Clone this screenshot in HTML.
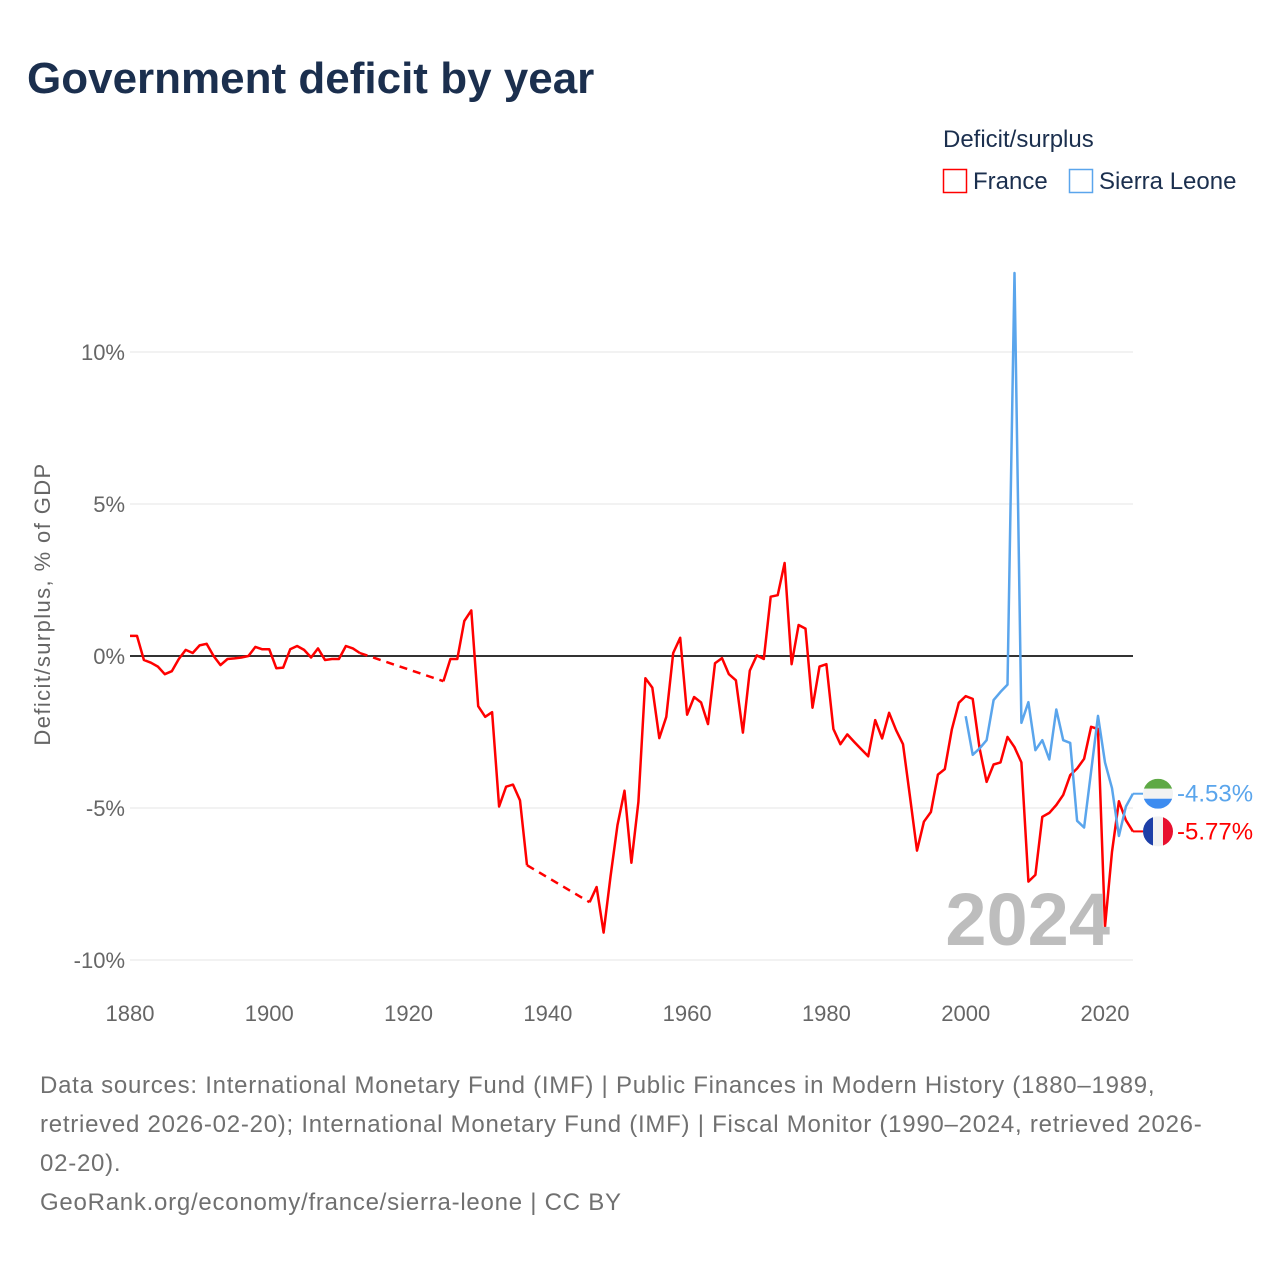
<!DOCTYPE html>
<html><head><meta charset="utf-8"><style>
body{margin:0;background:#fff;width:1280px;height:1280px;overflow:hidden;font-family:"Liberation Sans",sans-serif}
</style></head><body>
<svg width="1280" height="1280" font-family="Liberation Sans, sans-serif">
<text x="27" y="93" font-size="44" font-weight="bold" fill="#1b2f4e">Government deficit by year</text>
<text x="943" y="147" font-size="24" fill="#1b2f4e">Deficit/surplus</text>
<g><rect x="943.5" y="169.5" width="23" height="23" fill="none" stroke="#ff0000" stroke-width="1.5"/><text x="973" y="189" font-size="24" fill="#1b2f4e">France</text></g>
<g><rect x="1069.5" y="169.5" width="23" height="23" fill="none" stroke="#5aa5ec" stroke-width="1.5"/><text x="1099" y="189" font-size="24" fill="#1b2f4e">Sierra Leone</text></g>
<text transform="translate(50,604) rotate(-90)" text-anchor="middle" font-size="22" letter-spacing="1.4" fill="#666">Deficit/surplus, % of GDP</text>
<g id="grid"></g><g id="axes"></g><g id="series"></g>
<text x="1110" y="945" text-anchor="end" font-size="74" font-weight="bold" fill="#bdbdbd">2024</text>
<g id="ends"></g>
<g font-size="24" fill="#707070" letter-spacing="0.75">
<text x="40" y="1093">Data sources: International Monetary Fund (IMF) | Public Finances in Modern History (1880–1989,</text>
<text x="40" y="1132">retrieved 2026-02-20); International Monetary Fund (IMF) | Fiscal Monitor (1990–2024, retrieved 2026-</text>
<text x="40" y="1171">02-20).</text>
<text x="40" y="1210">GeoRank.org/economy/france/sierra-leone | CC BY</text>
</g>
</svg>
<script>
const xTicks=[1880,1900,1920,1940,1960,1980,2000,2020];
const yTicks=[-10,-5,0,5,10];
const franceYears1=[1880,1881,1882,1883,1884,1885,1886,1887,1888,1889,1890,1891,1892,1893,1894,1895,1896,1897,1898,1899,1900,1901,1902,1903,1904,1905,1906,1907,1908,1909,1910,1911,1912,1913];
const franceVals1=[0.66,0.66,-0.13,-0.22,-0.35,-0.6,-0.5,-0.1,0.2,0.1,0.35,0.4,0,-0.3,-0.1,-0.08,-0.05,0,0.3,0.22,0.22,-0.4,-0.38,0.22,0.33,0.2,-0.05,0.25,-0.13,-0.1,-0.1,0.33,0.25,0.1];
const franceYears2=[1925,1926,1927,1928,1929,1930,1931,1932,1933,1934,1935,1936,1937];
const franceVals2=[-0.83,-0.1,-0.1,1.15,1.5,-1.65,-2.0,-1.85,-4.95,-4.3,-4.23,-4.75,-6.88];
const franceYears3=[1946,1947,1948,1949,1950,1951,1952,1953,1954,1955,1956,1957,1958,1959,1960,1961,1962,1963,1964,1965,1966,1967,1968,1969,1970,1971,1972,1973,1974,1975,1976,1977,1978,1979,1980,1981,1982,1983,1984,1985,1986,1987,1988,1989,1990,1991,1992,1993,1994,1995,1996,1997,1998,1999,2000,2001,2002,2003,2004,2005,2006,2007,2008,2009,2010,2011,2012,2013,2014,2015,2016,2017,2018,2019,2020,2021,2022,2023,2024];
const franceVals3=[-8.1,-7.6,-9.1,-7.26,-5.56,-4.43,-6.8,-4.8,-0.73,-1.04,-2.7,-2.0,0.1,0.6,-1.93,-1.35,-1.53,-2.24,-0.24,-0.07,-0.6,-0.8,-2.52,-0.48,0.02,-0.1,1.95,2.0,3.06,-0.27,1.02,0.9,-1.7,-0.35,-0.27,-2.4,-2.9,-2.58,-2.83,-3.07,-3.3,-2.11,-2.71,-1.87,-2.44,-2.9,-4.63,-6.4,-5.45,-5.13,-3.9,-3.72,-2.42,-1.54,-1.32,-1.41,-3.04,-4.14,-3.57,-3.5,-2.66,-3.0,-3.5,-7.42,-7.2,-5.29,-5.16,-4.9,-4.57,-3.92,-3.7,-3.38,-2.33,-2.4,-8.9,-6.44,-4.78,-5.4,-5.77];
const sleYears=[2000,2001,2002,2003,2004,2005,2006,2007,2008,2009,2010,2011,2012,2013,2014,2015,2016,2017,2018,2019,2020,2021,2022,2023,2024];
const sleVals=[-1.98,-3.25,-3.04,-2.77,-1.45,-1.18,-0.94,12.6,-2.2,-1.52,-3.1,-2.77,-3.4,-1.76,-2.77,-2.86,-5.42,-5.64,-3.8,-1.97,-3.5,-4.35,-5.92,-4.95,-4.53];
const endLabels=["-4.53%","-5.77%"];

const NS="http://www.w3.org/2000/svg";
const X=y=>130+(y-1880)*(975/140);
const Y=v=>656-v*30.4;
function mk(tag,attrs,parent){const e=document.createElementNS(NS,tag);for(const k in attrs)e.setAttribute(k,attrs[k]);parent.appendChild(e);return e;}
const grid=document.getElementById('grid'),axes=document.getElementById('axes'),series=document.getElementById('series'),ends=document.getElementById('ends');
yTicks.forEach(t=>{
 const l=mk('line',{x1:130,x2:1133,y1:Y(t),y2:Y(t),stroke:t===0?'#333':'#e6e6e6','stroke-width':t===0?2:1},grid);
 
 
 const tx=mk('text',{x:125,y:Y(t)+8,'text-anchor':'end','font-size':22,fill:'#666'},axes);
 tx.textContent=t+'%';
 
 
});
xTicks.forEach(t=>{
 const tx=mk('text',{x:X(t),y:1021,'text-anchor':'middle','font-size':22,fill:'#666'},axes);
 tx.textContent=t;
 
 
});
function pts(ys,vs){return ys.map((y,i)=>X(y).toFixed(1)+','+Y(vs[i]).toFixed(1)).join(' ');}
function line(ys,vs,color,dash,name){
 const p=mk('polyline',{points:pts(ys,vs),fill:'none',stroke:color,'stroke-width':2.5,'stroke-linejoin':'round'},series);
 if(dash)p.setAttribute('stroke-dasharray','8 6');
 
 
}
const red='#ff0000',blue='#5aa5ec';
line(franceYears1,franceVals1,red,false,'france-line-1880-1913');
line([franceYears1[franceYears1.length-1],franceYears2[0]],[franceVals1[franceVals1.length-1],franceVals2[0]],red,true,'france-gap-1914-1924');
line(franceYears2,franceVals2,red,false,'france-line-1925-1937');
line([franceYears2[franceYears2.length-1],franceYears3[0]],[franceVals2[franceVals2.length-1],franceVals3[0]],red,true,'france-gap-1938-1945');
line(franceYears3,franceVals3,red,false,'france-line-1946-2024');
line(sleYears,sleVals,blue,false,'sierra-leone-line');
const sleLast=sleVals[sleVals.length-1],frLast=franceVals3[franceVals3.length-1];
const yS=Y(sleLast),yF=Y(frLast);
const lx=X(2024);
const c1=mk('line',{x1:lx,x2:1143,y1:yS,y2:yS,stroke:blue,'stroke-width':2},ends);


const c2=mk('line',{x1:lx,x2:1143,y1:yF,y2:yF,stroke:red,'stroke-width':2},ends);


const defs=mk('defs',{},ends);
const cp1=mk('clipPath',{id:'cs'},defs);mk('circle',{cx:1158,cy:yS,r:15},cp1);
const cp2=mk('clipPath',{id:'cf'},defs);mk('circle',{cx:1158,cy:yF,r:15},cp2);
const f1=mk('g',{'clip-path':'url(#cs)'},ends);


mk('rect',{x:1143,y:yS-15,width:30,height:10,fill:'#5ea945'},f1);
mk('rect',{x:1143,y:yS-5,width:30,height:10,fill:'#f2f2f2'},f1);
mk('rect',{x:1143,y:yS+5,width:30,height:10,fill:'#3d8cf0'},f1);
const f2=mk('g',{'clip-path':'url(#cf)'},ends);


mk('rect',{x:1143,y:yF-15,width:10,height:30,fill:'#1d3fa8'},f2);
mk('rect',{x:1153,y:yF-15,width:10,height:30,fill:'#f2f2f2'},f2);
mk('rect',{x:1163,y:yF-15,width:10,height:30,fill:'#e8102e'},f2);
const t1=mk('text',{x:1177,y:yS+8,'font-size':24,fill:blue},ends);
t1.textContent=endLabels[0];


const t2=mk('text',{x:1177,y:yF+8,'font-size':24,fill:red},ends);
t2.textContent=endLabels[1];


</script>
</body></html>
